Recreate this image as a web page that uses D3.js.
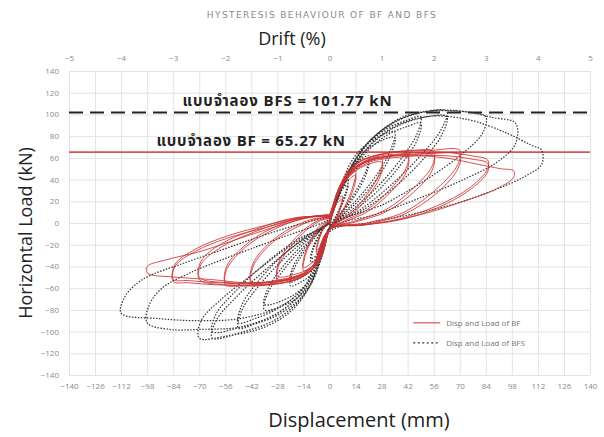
<!DOCTYPE html>
<html>
<head>
<meta charset="utf-8">
<script src="https://cdn.jsdelivr.net/npm/d3@7"></script>
<style>
  body { margin: 0; background: #fff; }
  .grid line { stroke: #e3e3e3; }
  .grid path { display: none; }
  .tick text { fill: #8a8a8a; font-family: "Open Sans", sans-serif; font-size: 8px; }
</style>
</head>
<body>
<div id="chart"></div>
<script>
// tick values
const dispTicks = [-140, -126, -112, -98, -84, -70, -56, -42, -28, -14, 0, 14, 28, 42, 56, 70, 84, 98, 112, 126, 140];
const loadTicks = [-140, -120, -100, -80, -60, -40, -20, 0, 20, 40, 60, 80, 100, 120, 140];
const driftTicks = [-5, -4, -3, -2, -1, 0, 1, 2, 3, 4, 5];

// reference loads from the model
const bfRef = 65.27;
const bfsRef = 101.77;

// BF cycles (disp mm, load kN)
const bfCycles = [
  [[0,-3],[2,12],[4,20],[7,25],[6,16],[4,6],[2,0],[0,-6],[-2,-16],[-4,-24],[-7,-28],[-6,-18],[-4,-8],[-2,-2],[0,2]],
  [[0,0],[2,10],[4,18],[7,22],[6,14],[4,5],[2,0],[0,-6],[-2,-14],[-4,-21],[-7,-25],[-6,-16],[-4,-7],[-2,-1],[0,2]],
  [[0,0],[3,22],[7,38],[14,48],[13,36],[9,18],[5,6],[0,-6],[-3,-24],[-7,-36],[-14,-44],[-13,-30],[-9,-14],[-5,-4],[0,2]],
  [[0,2],[3,20],[7,34],[14,44],[13,32],[9,16],[5,5],[0,-6],[-3,-22],[-7,-33],[-14,-41],[-13,-27],[-9,-12],[-5,-2],[0,2]],
  [[0,2],[4,28],[10,46],[18,56],[28,60],[27,46],[20,26],[12,10],[5,2],[0,-6],[-4,-30],[-10,-44],[-18,-50],[-28,-52],[-27,-38],[-20,-20],[-12,-6],[-5,2],[0,4]],
  [[0,2],[4,25],[10,42],[18,52],[28,56],[27,42],[20,23],[12,8],[5,1],[0,-6],[-4,-28],[-10,-41],[-18,-47],[-28,-49],[-27,-35],[-20,-17],[-12,-4],[-5,3],[0,4]],
  [[0,4],[5,32],[12,52],[24,62],[42,64],[41,50],[32,30],[20,12],[8,2],[0,-6],[-6,-36],[-14,-48],[-26,-54],[-42,-56],[-41,-40],[-32,-20],[-20,-6],[-8,3],[0,5]],
  [[0,4],[5,30],[12,49],[24,59],[42,61],[41,46],[32,27],[20,10],[8,1],[0,-6],[-6,-34],[-14,-46],[-26,-52],[-42,-54],[-41,-37],[-32,-18],[-20,-4],[-8,4],[0,5]],
  [[0,5],[6,35],[15,55],[30,64],[45,67],[56,66],[55,52],[45,32],[30,12],[14,2],[0,-6],[-8,-40],[-18,-52],[-32,-57],[-48,-58],[-56,-57],[-55,-42],[-45,-22],[-30,-6],[-14,4],[0,6]],
  [[0,5],[6,33],[15,52],[30,61],[45,63],[56,62],[55,48],[45,28],[30,10],[14,1],[0,-6],[-8,-38],[-18,-50],[-32,-55],[-48,-56],[-56,-54],[-55,-39],[-45,-20],[-30,-4],[-14,5],[0,6]],
  [[0,5],[7,38],[17,57],[35,65],[55,67],[70,67],[69,54],[58,32],[40,10],[20,0],[0,-6],[-9,-42],[-20,-53],[-38,-57],[-55,-57],[-70,-52],[-69,-38],[-58,-22],[-40,-8],[-18,4],[0,6]],
  [[0,5],[7,36],[17,54],[35,62],[55,64],[70,63],[69,50],[58,28],[40,8],[20,-1],[0,-6],[-9,-40],[-20,-51],[-38,-55],[-55,-55],[-70,-50],[-69,-35],[-58,-19],[-40,-6],[-18,5],[0,6]],
  [[0,6],[8,40],[20,58],[40,64],[62,65],[76,62],[85,58],[85,50],[75,32],[58,16],[38,4],[18,-2],[0,-6],[-10,-44],[-22,-54],[-40,-57],[-60,-57],[-76,-55],[-84,-54],[-83,-40],[-72,-26],[-55,-14],[-34,-4],[-16,4],[0,7]],
  [[0,6],[8,38],[20,55],[40,61],[62,62],[76,59],[85,55],[85,47],[75,30],[58,14],[38,3],[18,-2],[0,-6],[-10,-42],[-22,-52],[-40,-55],[-60,-55],[-76,-53],[-84,-52],[-83,-38],[-72,-24],[-55,-12],[-34,-2],[-16,5],[0,7]],
  [[0,7],[9,42],[22,58],[42,62],[62,60],[80,54],[92,50],[99,48],[99,42],[88,30],[72,20],[54,10],[34,2],[16,-2],[0,-6],[-10,-42],[-24,-52],[-44,-55],[-64,-52],[-82,-50],[-98,-46],[-98,-40],[-88,-34],[-69,-26],[-48,-14],[-30,-4],[-14,4],[0,8]]
];

// BFS cycles
const bfsCycles = [
  [[0,-5],[3,20],[6,33],[10,40],[9,30],[6,16],[3,5],[0,-4],[-3,-20],[-6,-31],[-10,-36],[-9,-26],[-6,-14],[-3,-5],[0,0]],
  [[0,0],[3,17],[6,29],[10,36],[9,27],[6,14],[3,4],[0,-5],[-3,-18],[-6,-28],[-10,-33],[-9,-23],[-6,-12],[-3,-4],[0,0]],
  [[0,-2],[4,26],[9,45],[15,56],[21,62],[20,50],[15,32],[9,16],[4,5],[0,-6],[-4,-30],[-9,-46],[-15,-54],[-21,-58],[-20,-46],[-15,-30],[-9,-16],[-4,-5],[0,0]],
  [[0,0],[4,22],[9,40],[15,51],[21,57],[20,46],[15,29],[9,14],[4,4],[0,-6],[-4,-26],[-9,-42],[-15,-50],[-21,-54],[-20,-42],[-15,-27],[-9,-14],[-4,-4],[0,0]],
  [[0,0],[6,34],[13,60],[22,75],[35,84],[33,68],[26,46],[16,24],[7,8],[0,-6],[-5,-36],[-11,-58],[-20,-72],[-35,-80],[-33,-64],[-25,-44],[-15,-24],[-7,-10],[0,0]],
  [[0,0],[6,30],[13,54],[22,70],[35,79],[33,63],[26,42],[16,21],[7,7],[0,-6],[-5,-32],[-11,-53],[-20,-67],[-35,-75],[-33,-60],[-25,-40],[-15,-21],[-7,-8],[0,0]],
  [[0,0],[8,40],[17,66],[30,86],[42,95],[49,98],[47,82],[38,58],[25,32],[12,12],[0,-4],[-7,-44],[-15,-68],[-28,-85],[-40,-93],[-49,-97],[-47,-80],[-38,-58],[-24,-32],[-11,-13],[0,0]],
  [[0,0],[8,36],[17,60],[30,80],[42,89],[49,92],[47,76],[38,53],[25,28],[12,10],[0,-4],[-7,-40],[-15,-62],[-28,-79],[-40,-88],[-49,-92],[-47,-75],[-38,-53],[-24,-28],[-11,-11],[0,0]],
  [[0,2],[10,46],[20,73],[34,92],[50,102],[63,103],[60,86],[50,64],[35,38],[18,14],[0,-5],[-8,-50],[-17,-73],[-30,-90],[-46,-100],[-63,-106],[-61,-90],[-50,-68],[-35,-44],[-18,-20],[0,0]],
  [[0,2],[10,42],[20,68],[34,87],[50,97],[63,98],[60,80],[50,58],[35,33],[18,12],[0,-5],[-8,-46],[-17,-68],[-30,-85],[-46,-95],[-63,-100],[-61,-84],[-50,-62],[-35,-38],[-18,-16],[0,0]],
  [[0,4],[11,50],[23,78],[40,98],[60,104],[75,102],[84,98],[82,82],[70,62],[52,40],[30,18],[0,-5],[-10,-56],[-20,-80],[-35,-96],[-55,-104],[-70,-106],[-69,-90],[-58,-70],[-42,-48],[-22,-22],[0,2]],
  [[0,5],[12,52],[26,82],[45,100],[70,103],[88,97],[100,92],[100,73],[90,56],[72,40],[50,24],[25,8],[0,-6],[-12,-58],[-25,-80],[-45,-95],[-70,-98],[-86,-98],[-98,-92],[-97,-76],[-90,-60],[-75,-46],[-55,-32],[-30,-16],[0,4]],
  [[0,6],[14,55],[30,84],[52,98],[75,95],[95,83],[108,72],[114,67],[114,54],[104,42],[88,30],[68,18],[44,8],[20,0],[0,-8],[-14,-60],[-28,-78],[-48,-88],[-70,-90],[-92,-88],[-112,-83],[-110,-68],[-103,-55],[-96,-48],[-80,-38],[-60,-26],[-40,-14],[-20,-3],[0,6]]
];

const margin = { top: 71, right: 14, bottom: 62, left: 69 },
  width = 604 - margin.left - margin.right,
  height = 437 - margin.top - margin.bottom;

const svg = d3.select('#chart')
  .append('svg')
  .attr('width', 604)
  .attr('height', 437);

const g = svg.append('g')
  .attr('transform', `translate(${margin.left},${margin.top})`);

const x = d3.scaleLinear().domain([-140, 140]).range([0, width]);
const y = d3.scaleLinear().domain([-140, 140]).range([height, 0]);
const xTop = d3.scaleLinear().domain([-5, 5]).range([0, width]);

// grid
g.append('g').attr('class', 'grid')
  .attr('transform', `translate(0,${height})`)
  .call(d3.axisBottom(x).tickValues(dispTicks).tickSize(-height).tickFormat(''));
g.append('g').attr('class', 'grid')
  .call(d3.axisLeft(y).tickValues(loadTicks).tickSize(-width).tickFormat(''));

// axes (labels only)
const xAxis = g.append('g')
  .attr('transform', `translate(0,${height})`)
  .call(d3.axisBottom(x).tickValues(dispTicks).tickSize(0).tickPadding(8));
const yAxis = g.append('g')
  .call(d3.axisLeft(y).tickValues(loadTicks).tickSize(0).tickPadding(10));
const topAxis = g.append('g')
  .call(d3.axisTop(xTop).tickValues(driftTicks).tickSize(0).tickPadding(10));
[xAxis, yAxis, topAxis].forEach(a => a.select('.domain').remove());

// reference lines
g.append('line')
  .attr('x1', 0).attr('x2', width)
  .attr('y1', y(bfsRef)).attr('y2', y(bfsRef))
  .attr('stroke', '#222').attr('stroke-width', 2)
  .attr('stroke-dasharray', '14,7');
g.append('line')
  .attr('x1', 0).attr('x2', width)
  .attr('y1', y(bfRef)).attr('y2', y(bfRef))
  .attr('stroke', '#d9534f').attr('stroke-width', 1.6);

// hysteresis paths
const line = d3.line()
  .x(d => x(d[0]))
  .y(d => y(d[1]))
  .curve(d3.curveCatmullRom.alpha(0.5));

g.append('path')
  .datum(bfsCycles.flat())
  .attr('d', line)
  .attr('fill', 'none')
  .attr('stroke', '#333')
  .attr('stroke-width', 1.2)
  .attr('stroke-dasharray', '1.5,1.5');

g.append('path')
  .datum(bfCycles.flat())
  .attr('d', line)
  .attr('fill', 'none')
  .attr('stroke', '#cc3434')
  .attr('stroke-width', 1)
  .attr('opacity', 0.85);

// annotations
const thaiFont = '"Noto Sans Thai", "Noto Sans", "DejaVu Sans", sans-serif';
g.append('text')
  .attr('x', x(-79)).attr('y', y(bfsRef) - 7)
  .attr('font-family', thaiFont).attr('font-weight', 'bold')
  .attr('font-size', 15).attr('letter-spacing', 0.9).attr('fill', '#222')
  .text('แบบจำลอง BFS = 101.77 kN');
g.append('text')
  .attr('x', x(-93)).attr('y', y(bfRef) - 6)
  .attr('font-family', thaiFont).attr('font-weight', 'bold')
  .attr('font-size', 15).attr('letter-spacing', 0.8).attr('fill', '#222')
  .text('แบบจำลอง BF = 65.27 kN');

// legend
const legend = g.append('g').attr('transform', `translate(${x(45)},${y(-92)})`);
legend.append('line').attr('x1', 0).attr('x2', 27).attr('y1', 0).attr('y2', 0)
  .attr('stroke', '#cc3434').attr('stroke-width', 1);
legend.append('line').attr('x1', 0).attr('x2', 27).attr('y1', 20).attr('y2', 20)
  .attr('stroke', '#333').attr('stroke-width', 1.2).attr('stroke-dasharray', '2,2.5');
legend.selectAll('text')
  .data(['Disp and Load of BF', 'Disp and Load of BFS'])
  .join('text')
  .attr('x', 33).attr('y', (d, i) => i * 20 + 3)
  .attr('font-family', '"Open Sans", sans-serif')
  .attr('font-size', 8).attr('fill', '#777')
  .text(d => d);

// titles
svg.append('text')
  .attr('x', 322).attr('y', 18)
  .attr('text-anchor', 'middle')
  .attr('font-family', '"DejaVu Sans", sans-serif')
  .attr('font-size', 9).attr('letter-spacing', 1.4).attr('fill', '#8a8a8a')
  .text('HYSTERESIS BEHAVIOUR OF BF AND BFS');
svg.append('text')
  .attr('x', 292).attr('y', 45)
  .attr('text-anchor', 'middle')
  .attr('font-family', '"Open Sans", sans-serif')
  .attr('font-size', 18).attr('fill', '#222')
  .text('Drift (%)');
svg.append('text')
  .attr('x', 359).attr('y', 427)
  .attr('text-anchor', 'middle')
  .attr('font-family', '"Open Sans", sans-serif')
  .attr('font-size', 20).attr('fill', '#222')
  .text('Displacement (mm)');
svg.append('text')
  .attr('transform', 'translate(32,233) rotate(-90)')
  .attr('text-anchor', 'middle')
  .attr('font-family', '"Open Sans", sans-serif')
  .attr('font-size', 18).attr('fill', '#222')
  .text('Horizontal Load (kN)');
</script>
</body>
</html>
